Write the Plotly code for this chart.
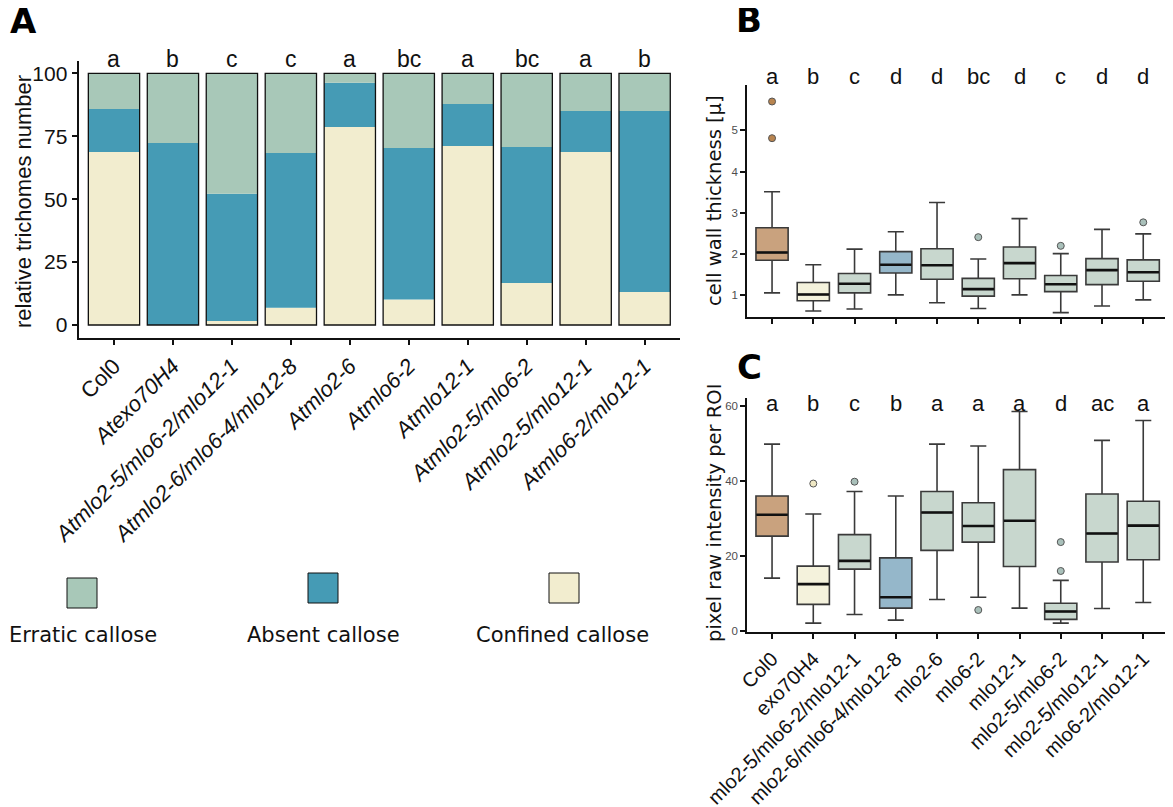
import plotly.graph_objects as go

# ---------------- Panel A data ----------------
categories_A = ["Col0", "Atexo70H4", "Atmlo2-5/mlo6-2/mlo12-1", "Atmlo2-6/mlo6-4/mlo12-8",
                "Atmlo2-6", "Atmlo6-2", "Atmlo12-1", "Atmlo2-5/mlo6-2",
                "Atmlo2-5/mlo12-1", "Atmlo6-2/mlo12-1"]
confined = [68.7, 0.0, 1.6, 6.9, 78.7, 10.1, 71.1, 16.7, 68.7, 13.1]
absent = [17.1, 72.3, 50.5, 61.4, 17.5, 60.2, 16.7, 54.0, 16.3, 71.9]
erratic = [14.2, 27.7, 47.9, 31.7, 3.8, 29.7, 12.2, 29.3, 15.0, 15.0]
letters_A = ["a", "b", "c", "c", "a", "bc", "a", "bc", "a", "b"]

# ---------------- Panels B/C data ----------------
categories_BC = ["Col0", "exo70H4", "mlo2-5/mlo6-2/mlo12-1", "mlo2-6/mlo6-4/mlo12-8",
                 "mlo2-6", "mlo6-2", "mlo12-1", "mlo2-5/mlo6-2", "mlo2-5/mlo12-1", "mlo6-2/mlo12-1"]

B_low = [1.06, 0.62, 0.67, 1.01, 0.82, 0.68, 1.01, 0.58, 0.74, 0.89]
B_q1 = [1.85, 0.87, 1.06, 1.54, 1.39, 0.98, 1.40, 1.09, 1.26, 1.34]
B_med = [2.04, 1.02, 1.28, 1.74, 1.73, 1.15, 1.78, 1.27, 1.61, 1.56]
B_q3 = [2.64, 1.31, 1.53, 2.06, 2.13, 1.41, 2.17, 1.48, 1.89, 1.86]
B_high = [3.51, 1.74, 2.12, 2.54, 3.25, 1.88, 2.86, 2.01, 2.60, 2.49]
B_out = [[5.70, 4.81], [], [], [], [], [2.41], [], [2.20], [], [2.77]]
letters_B = ["a", "b", "c", "d", "d", "bc", "d", "c", "d", "d"]

C_low = [14.0, 2.0, 4.3, 2.8, 8.3, 8.9, 6.0, 2.0, 5.9, 7.5]
C_q1 = [25.2, 7.0, 16.4, 6.0, 21.4, 23.6, 17.1, 3.0, 18.3, 18.9]
C_med = [30.9, 12.4, 18.6, 8.9, 31.5, 27.9, 29.3, 5.1, 25.9, 28.0]
C_q3 = [35.9, 17.2, 25.6, 19.4, 37.1, 34.1, 42.9, 7.3, 36.4, 34.5]
C_high = [49.7, 31.1, 37.1, 35.9, 49.7, 49.2, 58.4, 13.4, 50.7, 56.0]
C_out = [[], [39.2], [39.7], [], [], [5.5], [], [23.6, 15.9], [], []]
letters_C = ["a", "b", "c", "b", "a", "a", "a", "d", "ac", "a"]

legend_names = ["Erratic callose", "Absent callose", "Confined callose"]

# ---------------- styles ----------------
C_ERR, C_ABS, C_CONF = "#A8C8B8", "#459BB5", "#F2EDCF"
box_fill = ["#C9A27E", "#F4F2DC", "#C8D7CE", "#95B7CA", "#C8D7CE",
            "#C8D7CE", "#C8D7CE", "#C8D7CE", "#C8D7CE", "#C8D7CE"]
out_fill = ["#B8844F", "#EFE8C4", "#A9C0BA", "#95B7CA", "#A9C0BA",
            "#A9C0BA", "#A9C0BA", "#A9C0BA", "#A9C0BA", "#A9C0BA"]
FONT = "Liberation Sans"
W, H = 1173, 807          # window size (reference pixel coordinates)
OFF = 8                   # default page body margin
FW, FH = W - OFF, H - OFF  # figure size


def px(x):
    return (x - OFF) / FW


def py(y):
    return 1 - (y - OFF) / FH


fig = go.Figure()

xs = list(range(len(categories_A)))
bw = 0.87
base_abs = [c for c in confined]
base_err = [c + a for c, a in zip(confined, absent)]
total = [c + a + e for c, a, e in zip(confined, absent, erratic)]

fig.add_trace(go.Bar(x=xs, y=confined, base=[0] * 10, width=bw, marker=dict(color=C_CONF, line=dict(width=0)),
                     xaxis="x", yaxis="y", showlegend=False))
fig.add_trace(go.Bar(x=xs, y=absent, base=base_abs, width=bw, marker=dict(color=C_ABS, line=dict(width=0)),
                     xaxis="x", yaxis="y", showlegend=False))
fig.add_trace(go.Bar(x=xs, y=erratic, base=base_err, width=bw, marker=dict(color=C_ERR, line=dict(width=0)),
                     xaxis="x", yaxis="y", showlegend=False))
fig.add_trace(go.Bar(x=xs, y=total, base=[0] * 10, width=bw,
                     marker=dict(color="rgba(0,0,0,0)", line=dict(width=1.3, color="#111111")),
                     xaxis="x", yaxis="y", showlegend=False))

ann = []
shapes = []


def add_boxes(xa, ya, low, q1, med, q3, high, outs):
    for i in range(len(low)):
        fig.add_trace(go.Box(x=[i], q1=[q1[i]], median=[med[i]], q3=[q3[i]],
                             lowerfence=[low[i]], upperfence=[high[i]],
                             width=0.78, whiskerwidth=0.5, boxpoints=False,
                             fillcolor=box_fill[i], line=dict(color="#3a3a3a", width=1.6),
                             xaxis=xa, yaxis=ya, showlegend=False, hoverinfo="skip"))
        shapes.append(dict(type="line", xref=xa, yref=ya, x0=i - 0.38, x1=i + 0.38,
                           y0=med[i], y1=med[i], line=dict(color="#111111", width=2.6), layer="above"))
        if outs[i]:
            fig.add_trace(go.Scatter(x=[i] * len(outs[i]), y=outs[i], mode="markers",
                                     marker=dict(size=7, color=out_fill[i], line=dict(color="#555555", width=1)),
                                     xaxis=xa, yaxis=ya, showlegend=False, cliponaxis=False))


add_boxes("x2", "y2", B_low, B_q1, B_med, B_q3, B_high, B_out)
add_boxes("x3", "y3", C_low, C_q1, C_med, C_q3, C_high, C_out)

# significance letters
for i, t in enumerate(letters_A):
    ann.append(dict(x=i, y=py(59), xref="x", yref="paper", text=t, showarrow=False, xanchor="center",
                    font=dict(family=FONT, size=23, color="#111111"), yanchor="middle"))
for i, t in enumerate(letters_B):
    ann.append(dict(x=i, y=py(77), xref="x2", yref="paper", text=t, showarrow=False, xanchor="center",
                    font=dict(family=FONT, size=22, color="#111111"), yanchor="middle"))
for i, t in enumerate(letters_C):
    ann.append(dict(x=i, y=py(403), xref="x3", yref="paper", text=t, showarrow=False, xanchor="center",
                    font=dict(family=FONT, size=22, color="#111111"), yanchor="middle"))

# y titles
ann.append(dict(x=px(23), y=py(202), xref="paper", yref="paper", text="relative trichomes number",
                textangle=-90, showarrow=False, xanchor="center", yanchor="middle",
                font=dict(family=FONT, size=22, color="#111111")))
ann.append(dict(x=px(714), y=py(201), xref="paper", yref="paper", text="cell wall thickness [μ]",
                textangle=-90, showarrow=False, xanchor="center", yanchor="middle",
                font=dict(family="DejaVu Sans", size=19.5, color="#111111")))
ann.append(dict(x=px(714), y=py(513), xref="paper", yref="paper", text="pixel raw intensity per ROI",
                textangle=-90, showarrow=False, xanchor="center", yanchor="middle",
                font=dict(family="DejaVu Sans", size=19.5, color="#111111")))

# panel letters
for t, lx, ly in [("A", 23, 21), ("B", 749, 20), ("C", 749, 367)]:
    ann.append(dict(x=px(lx), y=py(ly), xref="paper", yref="paper", text="<b>%s</b>" % t,
                    showarrow=False, xanchor="center", yanchor="middle",
                    font=dict(family="DejaVu Sans", size=34, color="#000000")))

# legend (custom)
leg_cols = [C_ERR, C_ABS, C_CONF]
leg_sq = [(67, 578), (308, 573), (549, 573)]
leg_tx = [83, 323, 562]
for name, col, (sx, sy), tx in zip(legend_names, leg_cols, leg_sq, leg_tx):
    shapes.append(dict(type="rect", xref="paper", yref="paper", x0=px(sx), x1=px(sx + 30),
                       y0=py(sy + 30), y1=py(sy), fillcolor=col, line=dict(color="#111111", width=1)))
    ann.append(dict(x=px(tx), y=py(635), xref="paper", yref="paper", text=name, showarrow=False,
                    xanchor="center", yanchor="middle",
                    font=dict(family="DejaVu Sans", size=21, color="#111111")))

ticktext_A = [c if c == "Col0" else "<i>%s</i>" % c for c in categories_A]

axis_common = dict(showline=True, linecolor="#111111", linewidth=2, ticks="outside", ticklen=5,
                   tickwidth=1.5, tickcolor="#111111", showgrid=False, zeroline=False, automargin=False)

fig.update_layout(
    width=FW, height=FH, margin=dict(l=0, r=0, t=0, b=0),
    paper_bgcolor="white", plot_bgcolor="white", barmode="overlay",
    annotations=ann, shapes=shapes,
    xaxis=dict(domain=[px(78.6), px(680)], range=[-0.6, 9.6], tickvals=xs, ticktext=ticktext_A,
               tickangle=-45, tickfont=dict(family=FONT, size=22, color="#111111"), anchor="y", **axis_common),
    yaxis=dict(domain=[py(337.6), py(60.7)], range=[-5, 105], tickvals=[0, 25, 50, 75, 100],
               tickfont=dict(family=FONT, size=21, color="#111111"), anchor="x", **axis_common),
    xaxis2=dict(domain=[px(747.3), px(1168)], range=[-0.6, 9.6], tickvals=xs, showticklabels=False,
                anchor="y2", **axis_common),
    yaxis2=dict(domain=[py(317.3), py(85)], range=[0.467, 6.1], tickvals=[1, 2, 3, 4, 5],
                tickfont=dict(family=FONT, size=11.5, color="#4d4d4d"), anchor="x2", **axis_common),
    xaxis3=dict(domain=[px(747.3), px(1168)], range=[-0.6, 9.6], tickvals=xs, ticktext=categories_BC,
                tickangle=-45, tickfont=dict(family=FONT, size=20, color="#111111"), anchor="y3", **axis_common),
    yaxis3=dict(domain=[py(632.3), py(398)], range=[-0.44, 62.0], tickvals=[0, 20, 40, 60],
                tickfont=dict(family=FONT, size=11.5, color="#4d4d4d"), anchor="x3", **axis_common),
)

fig.write_html("out.html")
